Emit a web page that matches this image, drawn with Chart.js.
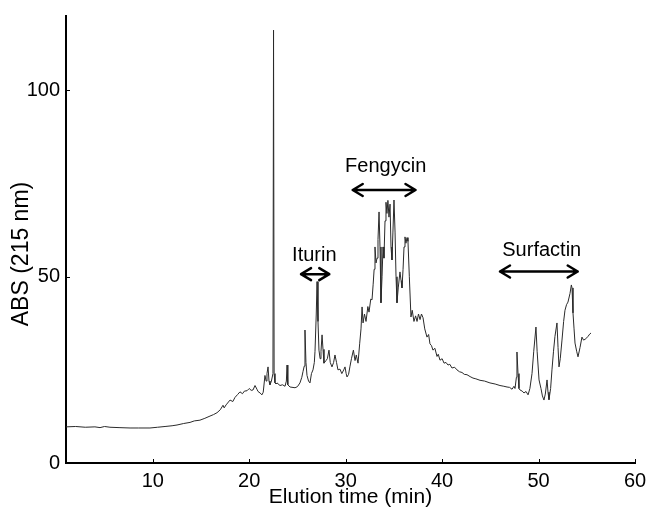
<!DOCTYPE html>
<html>
<head>
<meta charset="utf-8">
<script src="https://cdn.jsdelivr.net/npm/chart.js@4/dist/chart.umd.min.js"></script>
<style>
  html, body { margin: 0; padding: 0; background: #fff; }
  #wrap { width: 649px; height: 514px; }
</style>
</head>
<body>
<div id="wrap"><canvas id="c" width="649" height="514"></canvas></div>
<script>
// ---- Data ----
const elutionTime = [
  1.00, 2.0, 3.0, 4.0, 4.53, 5.0, 5.56, 6.5, 7.64, 8.5, 9.71, 10.5, 11.27, 12.0, 12.51, 13.2, 13.86, 14.3, 14.89, 15.4,
  15.93, 16.3, 16.66, 17.0, 17.28, 17.4, 17.6, 18.01, 18.3, 18.52, 18.8, 19.04, 19.3, 19.5, 19.77, 20.0, 20.2, 20.39, 20.6, 20.8,
  20.91, 21.12, 21.32, 21.45, 21.63, 21.75, 21.84, 21.95, 22.05, 22.15, 22.30, 22.46, 22.52, 22.58, 22.67, 22.78, 22.88, 23.19, 23.45, 23.71,
  23.85, 23.92, 24.0, 24.23, 24.75, 25.0, 25.26, 25.45, 25.57, 25.70, 25.78, 25.88, 25.99, 26.15, 26.30, 26.45, 26.61, 26.75, 26.82, 26.95,
  27.03, 27.13, 27.23, 27.35, 27.44, 27.55, 27.65, 27.75, 27.96, 28.10, 28.27, 28.40, 28.58, 28.75, 28.89, 29.05, 29.20, 29.41, 29.60, 29.80,
  29.93, 30.05, 30.14, 30.30, 30.45, 30.60, 30.80, 30.97, 31.10, 31.28, 31.45, 31.59, 31.70, 31.80, 31.95, 32.11, 32.30, 32.42, 32.60, 32.73,
  32.85, 32.95, 33.04, 33.15, 33.25, 33.35, 33.46, 33.56, 33.66, 33.77, 33.87, 33.97, 34.08, 34.18, 34.28, 34.38, 34.49, 34.60, 34.70, 34.80,
  34.90, 35.01, 35.12, 35.22, 35.32, 35.45, 35.63, 35.74, 35.84, 35.95, 36.05, 36.15, 36.25, 36.36, 36.46, 36.60, 36.77, 36.90, 37.08, 37.25,
  37.40, 37.55, 37.71, 37.86, 38.02, 38.20, 38.43, 38.60, 38.74, 38.90, 39.05, 39.25, 39.47, 39.60, 39.78, 40.0, 40.20, 40.40, 40.61, 40.80,
  41.02, 41.30, 41.54, 41.80, 42.06, 42.30, 42.58, 42.90, 43.20, 43.50, 43.93, 44.40, 44.96, 45.50, 46.00, 46.40, 46.73, 47.00, 47.25, 47.45,
  47.56, 47.70, 47.76, 47.87, 47.97, 48.08, 48.30, 48.49, 48.70, 48.91, 49.10, 49.32, 49.50, 49.73, 49.85, 50.05, 50.25, 50.40, 50.56, 50.70,
  50.88, 50.98, 51.08, 51.25, 51.39, 51.55, 51.70, 51.91, 52.02, 52.12, 52.25, 52.43, 52.60, 52.74, 52.90, 53.05, 53.26, 53.40, 53.47, 53.57,
  53.68, 53.78, 53.95, 54.09, 54.30, 54.50, 54.66, 54.82, 55.0, 55.13, 55.30, 55.44
];
const absorbance = [
  9.7, 9.8, 9.6, 9.7, 9.5, 9.8, 9.6, 9.5, 9.4, 9.4, 9.4, 9.6, 9.8, 10.0, 10.2, 10.6, 10.9, 11.3, 11.5, 12.0,
  12.6, 13.0, 13.5, 14.3, 15.5, 14.8, 15.6, 16.9, 16.5, 17.6, 18.4, 19.1, 18.6, 19.3, 19.4, 20.0, 19.5, 19.6, 20.8, 19.8,
  19.2, 18.8, 18.3, 19.0, 23.5, 22.0, 24.0, 25.8, 22.0, 21.0, 22.0, 24.0, 116.2, 24.0, 21.5, 21.2, 21.5, 20.8, 21.0, 20.6,
  22.0, 26.3, 21.0, 20.4, 20.2, 20.5, 21.5, 23.0, 24.5, 26.0, 35.7, 27.0, 23.5, 22.0, 21.5, 24.0, 25.0, 27.0, 30.0, 40.0,
  48.7, 38.0, 30.3, 28.0, 30.0, 34.4, 30.5, 26.8, 27.5, 28.0, 30.3, 27.0, 25.8, 27.0, 29.0, 27.0, 25.0, 25.2, 24.0, 25.0,
  25.8, 24.0, 23.1, 23.8, 26.0, 28.0, 30.3, 27.5, 29.0, 26.8, 32.0, 36.0, 41.9, 37.6, 40.0, 38.0, 42.0, 40.5, 44.0, 43.8,
  48.0, 52.0, 58.0, 53.7, 55.0, 60.0, 67.4, 58.0, 43.0, 50.0, 58.0, 55.0, 65.0, 70.0, 67.0, 70.5, 66.0, 69.5, 58.0, 54.5,
  62.0, 70.6, 62.0, 50.0, 43.0, 47.0, 51.3, 49.0, 47.0, 52.0, 58.0, 60.7, 59.0, 60.5, 59.5, 50.0, 39.2, 41.0, 38.0, 39.5,
  38.0, 40.0, 38.5, 40.0, 39.0, 36.0, 33.8, 34.5, 32.0, 31.5, 30.3, 30.8, 28.6, 29.2, 27.6, 28.0, 26.8, 27.0, 26.3, 26.5,
  25.5, 25.7, 25.0, 24.5, 24.3, 23.8, 23.7, 23.2, 22.8, 22.6, 22.2, 22.0, 21.5, 21.2, 20.8, 20.6, 20.4, 20.3, 19.8, 20.6,
  20.0, 23.0, 29.8, 24.0, 20.0, 19.6, 19.3, 18.8, 19.2, 18.3, 20.0, 24.0, 30.0, 36.5, 30.0, 22.3, 20.0, 18.0, 16.9, 18.5,
  22.3, 19.0, 17.0, 20.0, 25.0, 30.0, 34.0, 37.6, 31.0, 25.8, 28.0, 33.0, 38.0, 41.0, 42.5, 43.2, 45.5, 47.8, 47.0, 40.3,
  36.0, 32.2, 30.0, 28.5, 31.0, 33.8, 33.0, 33.2, 33.6, 34.0, 34.6, 34.9
];
const xTickValues = [10, 20, 30, 40, 50, 60];
const yTickValues = [0, 50, 100];
const xAxisTitle = 'Elution time (min)';
const yAxisTitle = 'ABS (215 nm)';

// Peak-group annotations
const annLabels   = ['Iturin', 'Fengycin', 'Surfactin'];
const annTextX    = [26.75, 34.15, 50.33];
const annTextY    = [55.8, 79.5, 57.0];
const arrowFromX  = [25.37, 30.73, 46.0];
const arrowToX    = [28.30, 37.24, 54.06];
const arrowY      = [50.7, 73.3, 51.4];

const FONT = "'Liberation Sans', Arial, sans-serif";

const points = elutionTime.map((t, i) => ({ x: t, y: absorbance[i] }));

const annotatePlugin = {
  id: 'annotate',
  afterDatasetsDraw(chart) {
    const ctx = chart.ctx;
    const xs = chart.scales.x, ys = chart.scales.y;
    ctx.save();
    // inward tick marks
    ctx.strokeStyle = '#000';
    ctx.lineWidth = 1;
    xTickValues.forEach(v => {
      const px = Math.round(xs.getPixelForValue(v)) + 0.5;
      ctx.beginPath(); ctx.moveTo(px, ys.bottom); ctx.lineTo(px, ys.bottom - 4); ctx.stroke();
    });
    yTickValues.forEach(v => {
      const py = Math.round(ys.getPixelForValue(v)) + 0.5;
      ctx.beginPath(); ctx.moveTo(xs.left, py); ctx.lineTo(xs.left + 4, py); ctx.stroke();
    });
    // y axis title (rotated), placed as in the reference
    ctx.fillStyle = '#000';
    ctx.save();
    ctx.translate(22, 254);
    ctx.rotate(-Math.PI / 2);
    ctx.font = '23px ' + FONT;
    ctx.textAlign = 'center';
    ctx.textBaseline = 'middle';
    ctx.fillText(yAxisTitle, 0, 0);
    ctx.restore();
    // labels and double arrows
    ctx.font = '20px ' + FONT;
    ctx.textAlign = 'center';
    ctx.textBaseline = 'middle';
    annLabels.forEach((lab, i) => {
      ctx.fillText(lab, xs.getPixelForValue(annTextX[i]), ys.getPixelForValue(annTextY[i]));
      const x1 = xs.getPixelForValue(arrowFromX[i]);
      const x2 = xs.getPixelForValue(arrowToX[i]);
      const y = ys.getPixelForValue(arrowY[i]);
      const hl = 10, hw = 6;
      ctx.lineWidth = 2.5;
      ctx.lineCap = 'round';
      ctx.lineJoin = 'round';
      ctx.beginPath();
      ctx.moveTo(x1, y); ctx.lineTo(x2, y);
      ctx.moveTo(x1 + hl, y - hw); ctx.lineTo(x1, y); ctx.lineTo(x1 + hl, y + hw);
      ctx.moveTo(x2 - hl, y - hw); ctx.lineTo(x2, y); ctx.lineTo(x2 - hl, y + hw);
      ctx.stroke();
    });
    ctx.restore();
  }
};

new Chart(document.getElementById('c'), {
  type: 'line',
  data: {
    datasets: [{
      data: points,
      borderColor: '#2a2a2a',
      borderWidth: 1,
      pointRadius: 0,
      tension: 0,
      fill: false
    }]
  },
  options: {
    responsive: false,
    devicePixelRatio: 1,
    animation: false,
    layout: { padding: { top: 16, right: 14, left: 0, bottom: 0 } },
    plugins: { legend: { display: false }, tooltip: { enabled: false } },
    scales: {
      x: {
        type: 'linear',
        min: 1, max: 60,
        afterBuildTicks: s => { s.ticks = xTickValues.map(v => ({ value: v })); },
        afterFit: s => { s.height = 51; s.paddingLeft = 0; s.paddingRight = 0; },
        grid: { display: true, drawOnChartArea: false, drawTicks: false },
        border: { display: true, color: '#000', width: 2 },
        ticks: { color: '#000', padding: 6, maxRotation: 0, font: { family: FONT, size: 20 } },
        title: { display: true, text: xAxisTitle, color: '#000',
                 font: { family: FONT, size: 21 }, padding: { top: 0, bottom: 4 } }
      },
      y: {
        type: 'linear',
        min: 0, max: 120,
        afterBuildTicks: s => { s.ticks = yTickValues.map(v => ({ value: v })); },
        afterFit: s => { s.width = 66; s.paddingTop = 0; s.paddingBottom = 0; },
        grid: { display: true, drawOnChartArea: false, drawTicks: false },
        border: { display: true, color: '#000', width: 2 },
        ticks: { color: '#000', padding: 6, font: { family: FONT, size: 20 } },
        title: { display: false, text: yAxisTitle }
      }
    }
  },
  plugins: [annotatePlugin]
});
</script>
</body>
</html>
